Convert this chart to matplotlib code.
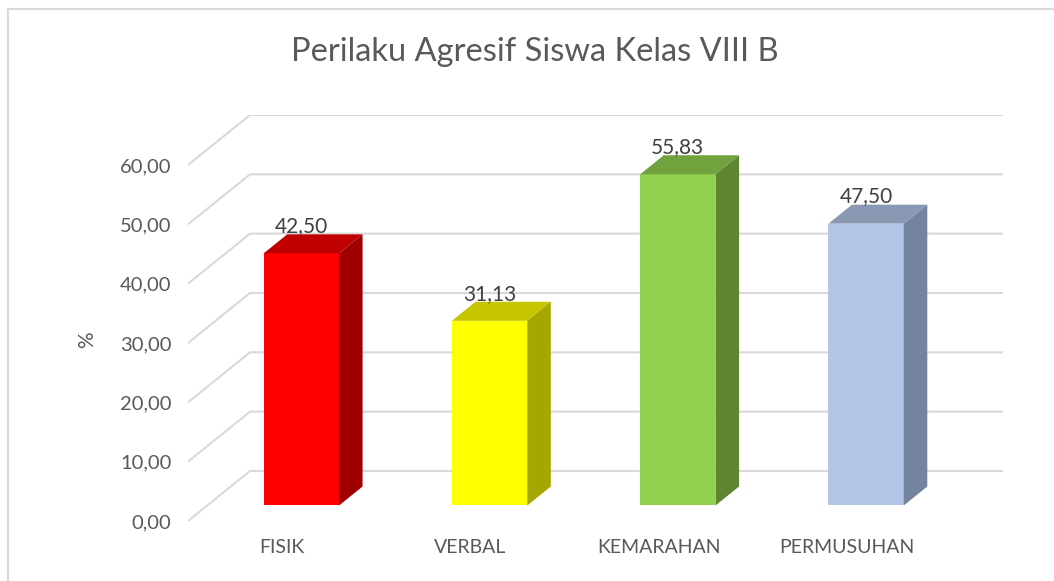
import matplotlib
matplotlib.use("Agg")
import matplotlib.pyplot as plt
from matplotlib.patches import Polygon, Rectangle

plt.rcParams['font.family'] = ['Lato', 'DejaVu Sans']

# data
kategori = ['FISIK', 'VERBAL', 'KEMARAHAN', 'PERMUSUHAN']
nilai = [42.50, 31.13, 55.83, 47.50]
yticks = [0, 10, 20, 30, 40, 50, 60]
warna_depan = ['#FF0000', '#FFFF00', '#92D050', '#B4C6E7']
warna_atas = ['#C00000', '#C6C600', '#72A23E', '#8A99B3']
warna_samping = ['#A00000', '#A6A600', '#5E8632', '#74839E']

W, H = 1054, 581
fig = plt.figure(figsize=(W / 100, H / 100), dpi=100)

# kedalaman 3D (miring) dalam satuan data
DX = 62 / 188.25
DY = 50 / 5.933
d0, d1 = 0.31, 0.69  # depan / belakang batang
lebar = 0.4

ax = fig.add_axes([188 / W, (H - 521) / H, (1003 - 188) / W, (521 - 115) / H])
ax.set_xlim(-0.5, 3.5 + DX)
ax.set_ylim(0, 60 + DY)
for s in ax.spines.values():
    s.set_visible(False)

abu = '#d9d9d9'
teks = '#595959'

# garis grid: dinding samping + dinding belakang
for v in yticks:
    ax.plot([-0.5, -0.5 + DX, 3.5 + DX], [v, v + DY, v + DY], color=abu, lw=1.5, zorder=1,
            solid_capstyle='butt')

# batang 3D
xs = [i + d0 * DX for i in range(len(nilai))]
ax.bar(xs, nilai, bottom=d0 * DY, width=lebar, color=warna_depan, zorder=3)
dd = (d1 - d0)
for i, v in enumerate(nilai):
    xl = xs[i] - lebar / 2
    xr = xs[i] + lebar / 2
    yb = d0 * DY
    yt = v + d0 * DY
    atas = [(xl, yt), (xr, yt), (xr + dd * DX, yt + dd * DY), (xl + dd * DX, yt + dd * DY)]
    samping = [(xr, yb), (xr + dd * DX, yb + dd * DY), (xr + dd * DX, yt + dd * DY), (xr, yt)]
    ax.add_patch(Polygon(atas, closed=True, facecolor=warna_atas[i], edgecolor='none', zorder=3))
    ax.add_patch(Polygon(samping, closed=True, facecolor=warna_samping[i], edgecolor='none', zorder=3))
    ax.annotate(f'{v:.2f}'.replace('.', ','), (xs[i], yt + dd * DY), xytext=(0, 1.5),
                textcoords='offset points', ha='center', va='baseline',
                fontsize=15, color='#404040', zorder=5)

ax.set_yticks(yticks)
ax.set_yticklabels([f'{v:.2f}'.replace('.', ',') for v in yticks], fontsize=14.5, color=teks)
ax.set_xticks(range(len(kategori)))
ax.set_xticklabels(kategori, fontsize=14, color=teks)
ax.tick_params(axis='y', length=0, pad=12)
ax.tick_params(axis='x', length=0, pad=13)

fig.text(87 / W, 1 - 340 / H, '%', rotation=90, ha='center', va='center', fontsize=15, color=teks)
fig.text(535 / W, 1 - 61 / H, 'Perilaku Agresif Siswa Kelas VIII B', ha='center', va='baseline',
         fontsize=23.5, color=teks)

# bingkai grafik
fig.patches.append(Rectangle((8 / W, -0.05), 1.1, 1 - 8.5 / H + 0.05, transform=fig.transFigure,
                             fill=False, edgecolor=abu, lw=1.5))

fig.savefig('out.png', dpi=100)
